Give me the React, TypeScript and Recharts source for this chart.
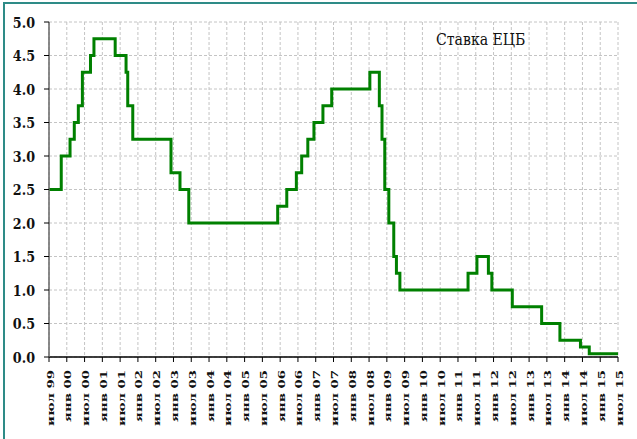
import React from 'react';
import { LineChart, Line, XAxis, YAxis, CartesianGrid } from 'recharts';

// ECB main refinancing rate: dates of change and new rate (%)
const changeDates = [
  '1999-07-01', '1999-11-05', '2000-02-04', '2000-03-17', '2000-04-28', '2000-06-09',
  '2000-09-01', '2000-10-06', '2001-05-11', '2001-08-31', '2001-09-18', '2001-11-09',
  '2002-12-06', '2003-03-07', '2003-06-06', '2005-12-06', '2006-03-08', '2006-06-15',
  '2006-08-09', '2006-10-11', '2006-12-13', '2007-03-14', '2007-06-13', '2008-07-09',
  '2008-10-15', '2008-11-12', '2008-12-10', '2009-01-21', '2009-03-11', '2009-04-08',
  '2009-05-13', '2011-04-13', '2011-07-13', '2011-11-09', '2011-12-14', '2012-07-11',
  '2013-05-08', '2013-11-13', '2014-06-11', '2014-09-10', '2015-07-01',
];
const rates = [
  2.5, 3.0, 3.25, 3.5, 3.75, 4.25,
  4.5, 4.75, 4.5, 4.25, 3.75, 3.25,
  2.75, 2.5, 2.0, 2.25, 2.5, 2.75,
  3.0, 3.25, 3.5, 3.75, 4.0, 4.25,
  3.75, 3.25, 2.5, 2.0, 1.5, 1.25,
  1.0, 1.25, 1.5, 1.25, 1.0, 0.75,
  0.5, 0.25, 0.15, 0.05, 0.05,
];
const xTickLabels = [
  'июл 99', 'янв 00', 'июл 00', 'янв 01', 'июл 01', 'янв 02', 'июл 02', 'янв 03', 'июл 03',
  'янв 04', 'июл 04', 'янв 05', 'июл 05', 'янв 06', 'июл 06', 'янв 07', 'июл 07', 'янв 08',
  'июл 08', 'янв 09', 'июл 09', 'янв 10', 'июл 10', 'янв 11', 'июл 11', 'янв 12', 'июл 12',
  'янв 13', 'июл 13', 'янв 14', 'июл 14', 'янв 15', 'июл 15',
];
const yTicks = [0, 0.5, 1, 1.5, 2, 2.5, 3, 3.5, 4, 4.5, 5];
const seriesName = 'Ставка ЕЦБ';

// months since July 1999
const toMonths = (d: string) => {
  const [y, m, day] = d.split('-').map(Number);
  return (y - 1999) * 12 + (m - 7) + (day - 1) / 30;
};
const data = changeDates.map((d, i) => ({ t: toMonths(d), rate: rates[i] }));
const xTicks = xTickLabels.map((_, i) => i * 6);

const FONT = 'DejaVu Serif';

const XTick = (props: any) => {
  const { x, y, index } = props;
  const label = xTickLabels[index] ?? '';
  return (
    <text
      transform={`translate(${x + 4.5}, ${y + 6}) rotate(-90) scale(1.4, 1)`}
      textAnchor="end"
      style={{ fontFamily: FONT, fontWeight: 'bold', fontSize: 9.5 }}
      fill="#111"
    >
      {label}
    </text>
  );
};

const YTick = (props: any) => {
  const { x, y, payload } = props;
  return (
    <text
      transform={`translate(${x}, ${y + 5.5}) scale(0.85, 1)`}
      textAnchor="end"
      style={{ fontFamily: FONT, fontWeight: 'bold', fontSize: 15 }}
      fill="#111"
    >
      {Number(payload.value).toFixed(1)}
    </text>
  );
};

export default function App() {
  return (
    <div style={{ position: 'fixed', left: 0, top: 0, width: 637, height: 439, background: '#fff', overflow: 'hidden' }}>
      <div
        style={{
          position: 'absolute', left: 3, top: 2, width: 700, height: 500,
          borderLeft: '2px solid #2e8b87', borderTop: '2px solid #2e8b87',
        }}
      />
      <div style={{ position: 'absolute', left: 0, top: 0 }}>
        <LineChart width={637} height={439} data={data} margin={{ top: 22, right: 19, left: 0, bottom: 0 }}>
          <CartesianGrid stroke="#c4c4c4" strokeDasharray="3 2" />
          <XAxis
            type="number"
            dataKey="t"
            domain={[0, 192]}
            ticks={xTicks}
            interval={0}
            height={82}
            tick={<XTick />}
            tickSize={5}
            axisLine={{ stroke: '#000', strokeWidth: 1.5 }}
            tickLine={{ stroke: '#000' }}
            allowDecimals
          />
          <YAxis
            type="number"
            domain={[0, 5]}
            ticks={yTicks}
            interval={0}
            width={49}
            tickSize={5}
            tickMargin={9}
            tick={<YTick />}
            axisLine={{ stroke: '#666', strokeWidth: 1.5 }}
            tickLine={{ stroke: '#000' }}
          />
          <Line
            type="stepAfter"
            dataKey="rate"
            name={seriesName}
            stroke="#008000"
            strokeWidth={3}
            dot={false}
            isAnimationActive={false}
          />
        </LineChart>
      </div>
      <div
        style={{
          position: 'absolute', left: 436, top: 30, fontFamily: FONT, fontSize: 16,
          color: '#111', whiteSpace: 'nowrap', transform: 'scaleX(0.88)', transformOrigin: 'left top',
        }}
      >
        {seriesName}
      </div>
    </div>
  );
}
